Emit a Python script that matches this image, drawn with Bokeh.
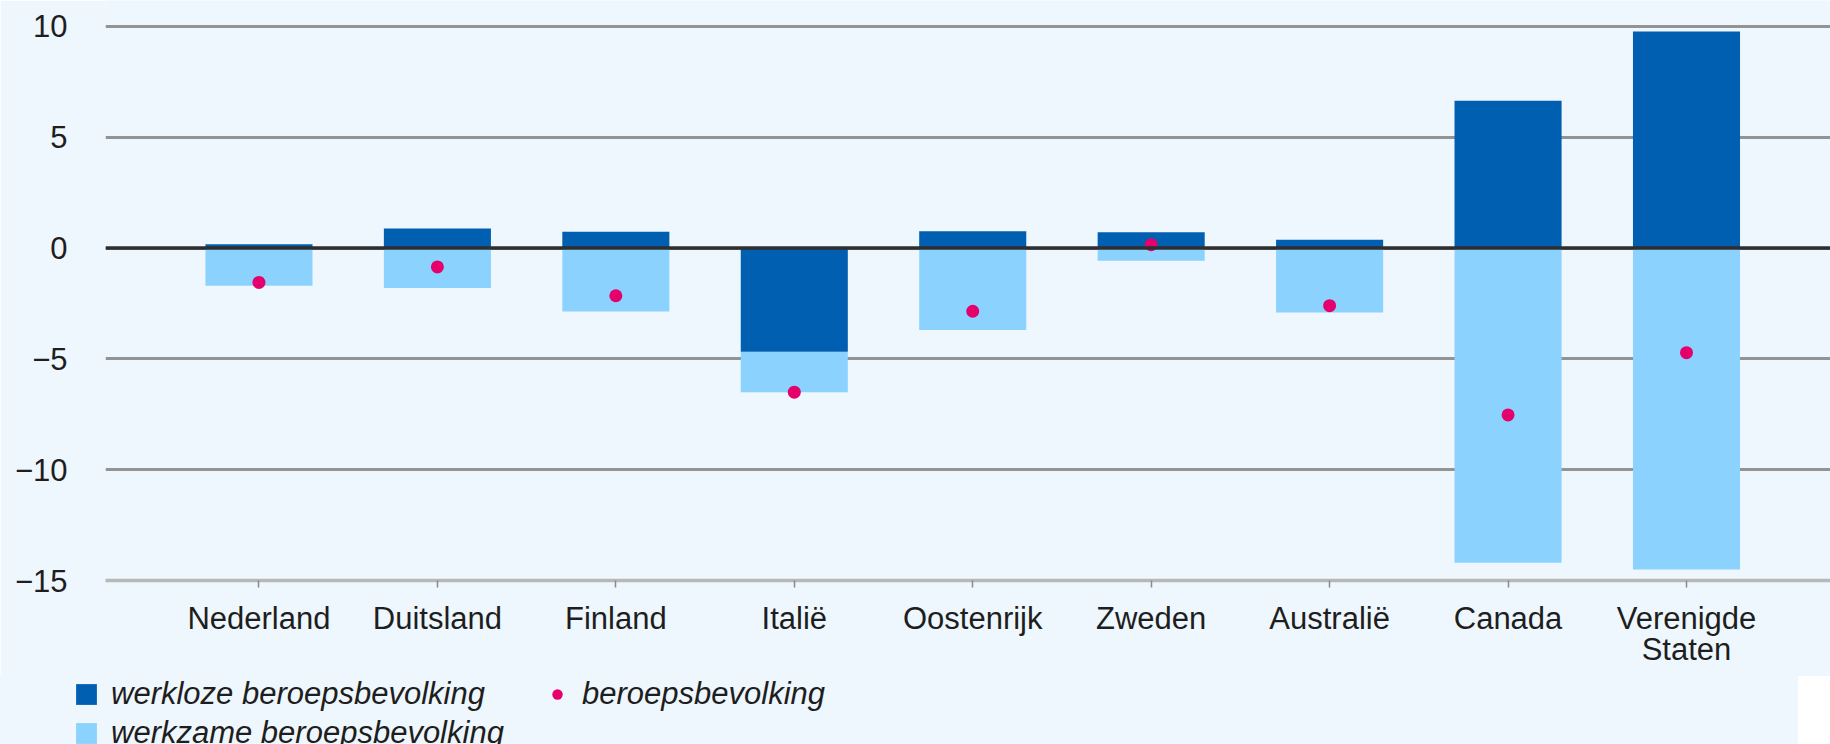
from bokeh.plotting import figure
from bokeh.layouts import column
from bokeh.models import FixedTicker, Span, Legend, LegendItem, ColumnDataSource
from bokeh.embed import file_html
from bokeh.resources import INLINE

categories = ["Nederland", "Duitsland", "Finland", "Italië", "Oostenrijk",
              "Zweden", "Australië", "Canada", "Verenigde\nStaten"]
werkloze = [0.17, 0.88, 0.74, -4.68, 0.76, 0.71, 0.38, 6.65, 9.77]
werkzame = [-1.70, -1.80, -2.86, -1.82, -3.70, -0.57, -2.91, -14.20, -14.50]
beroepsbevolking = [-1.55, -0.85, -2.15, -6.50, -2.85, 0.15, -2.60, -7.53, -4.72]
y_ticks = [-15, -10, -5, 0, 5, 10]
y_labels = ["−15", "−10", "−5", "0", "5", "10"]
legend_labels = ["werkloze beroepsbevolking", "werkzame beroepsbevolking",
                 "beroepsbevolking"]

DARK = "#005FB0"
LIGHT = "#8BD2FE"
DOT = "#E5006B"
BG = "#EEF7FD"
GRID = "#939393"
TEXT = "#1E1E1E"
FONT = "Liberation Sans"

W, H = 1830, 744
MAIN_H = 676
OVERLAP = 2
SHIFT = 32

xs = list(range(len(categories)))
light_top = [min(w, 0) for w in werkloze]
light_bottom = [t + z for t, z in zip(light_top, werkzame)]

src = ColumnDataSource(dict(x=xs, werkloze=werkloze, zero=[0] * len(xs),
                            ltop=light_top, lbot=light_bottom,
                            beroeps=beroepsbevolking))

p = figure(width=W, height=MAIN_H, output_backend="svg", toolbar_location=None,
           x_range=(-0.860, 8.807), y_range=(-15, 11.173),
           min_border_left=105, min_border_right=0, min_border_top=0,
           min_border_bottom=MAIN_H - 580)
p.background_fill_color = BG
p.border_fill_color = BG
p.outline_line_color = None

p.vbar(x="x", top="ltop", bottom="lbot", width=0.6, source=src,
       fill_color=LIGHT, line_color=None)
p.vbar(x="x", top="werkloze", bottom="zero", width=0.6, source=src,
       fill_color=DARK, line_color=None)
p.scatter(x="x", y="beroeps", source=src, size=13, marker="circle",
          fill_color=DOT, line_color=None)

zero = Span(location=0, dimension="width", line_color="#2E2E2E", line_width=3.5)
p.add_layout(zero)

# grid
p.xgrid.grid_line_color = None
p.ygrid.grid_line_color = GRID
p.ygrid.grid_line_width = 3
p.ygrid.ticker = FixedTicker(ticks=y_ticks)

# y axis
p.yaxis.ticker = FixedTicker(ticks=y_ticks)
p.yaxis.major_label_overrides = {t: l for t, l in zip(y_ticks, y_labels)}
p.yaxis.axis_line_color = None
p.yaxis.major_tick_line_color = None
p.yaxis.minor_tick_line_color = None
p.yaxis.major_tick_out = 0
p.yaxis.major_label_standoff = 38
p.yaxis.major_label_text_font = FONT
p.yaxis.major_label_text_font_size = "31px"
p.yaxis.major_label_text_color = TEXT

# x axis
p.xaxis.ticker = FixedTicker(ticks=xs)
p.xaxis.major_label_overrides = {x: c for x, c in zip(xs, categories)}
p.xaxis.axis_line_color = "#B8B8B8"
p.xaxis.axis_line_width = 3.5
p.xaxis.major_tick_line_color = "#8A8A8A"
p.xaxis.major_tick_line_width = 1.5
p.xaxis.major_tick_out = 7
p.xaxis.major_tick_in = 0
p.xaxis.minor_tick_line_color = None
p.xaxis.major_label_standoff = 13
p.xaxis.major_label_text_font = FONT
p.xaxis.major_label_text_font_size = "31px"
p.xaxis.major_label_text_line_height = 0.9
p.xaxis.major_label_text_color = TEXT

# legend strip below the chart (its glyphs lie outside its visible range)
q = figure(width=W + SHIFT, height=H - MAIN_H + OVERLAP, output_backend="svg",
           toolbar_location=None, x_range=(100, 101), y_range=(100, 101),
           x_axis_location=None, y_axis_location=None,
           min_border_left=40, min_border_right=0, min_border_top=OVERLAP,
           min_border_bottom=0)
q.margin = (-OVERLAP, 0, 0, -SHIFT)
q.grid.visible = False
q.background_fill_color = BG
q.border_fill_color = BG
q.outline_line_color = None
l_dark = q.vbar(x="x", top="werkloze", bottom="zero", width=0.6, source=src,
                fill_color=DARK, line_color=None)
l_light = q.vbar(x="x", top="ltop", bottom="lbot", width=0.6, source=src,
                 fill_color=LIGHT, line_color=None)
l_dot = q.scatter(x="x", y="beroeps", source=src, size=13, marker="circle",
                  fill_color=DOT, line_color=None)

legend = Legend(items=[
    LegendItem(label=legend_labels[0], renderers=[l_dark]),
    LegendItem(label=legend_labels[1], renderers=[l_light]),
    LegendItem(label=legend_labels[2], renderers=[l_dot]),
], location="top_left", orientation="vertical", nrows=2)
legend.padding = 0
legend.margin = 0
legend.spacing = 3
legend.glyph_width = 26
legend.glyph_height = 26
legend.label_height = 26
legend.label_standoff = 12
legend.label_width = 430
legend.label_text_font = FONT
legend.label_text_font_size = "31px"
legend.label_text_font_style = "italic"
legend.label_text_color = TEXT
legend.background_fill_alpha = 0
legend.border_line_color = None
q.add_layout(legend, "center")

layout = column(p, q, spacing=0)

html = file_html(layout, INLINE)
html = html.replace("<body>", '<body style="margin:0;background:%s">' % BG, 1)
open("out.html", "w").write(html)
